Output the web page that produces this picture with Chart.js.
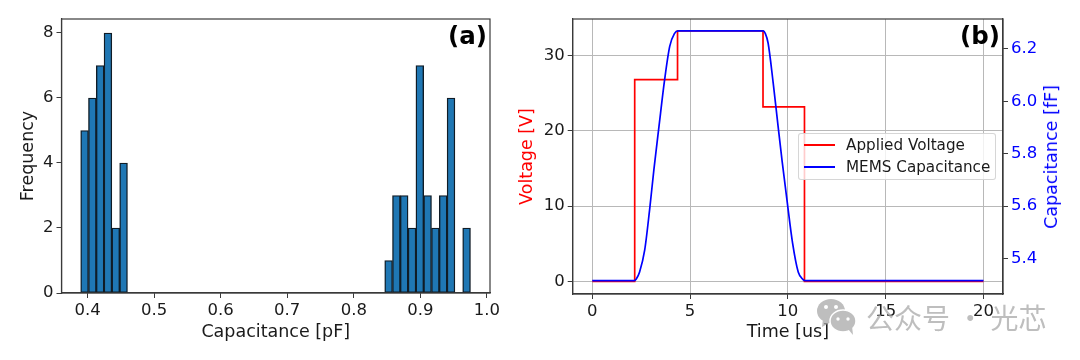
<!DOCTYPE html>
<html>
<head>
<meta charset="utf-8">
<title>Capacitance histogram and MEMS response</title>
<script src="https://cdn.jsdelivr.net/npm/chart.js@4"></script>
<style>
  html, body { margin: 0; padding: 0; background: #fff; }
  body { position: relative; width: 1080px; height: 360px; overflow: hidden; font-family: "DejaVu Sans", sans-serif; color: #1a1a1a; }
  canvas { position: absolute; top: 0; }
  #histCanvas { left: 0; }
  #memsCanvas { left: 505px; }
  .panel-tag { position: absolute; top: 21px; font-size: 24.5px; font-weight: bold; color: #000; line-height: 30px; }
  #capTitle { position: absolute; left: 1051px; top: 157px; color: #0000ff; font-size: 17.5px; white-space: nowrap; transform: translate(-50%, -50%) rotate(-90deg); }
  #legend { position: absolute; left: 798px; top: 133px; width: 196px; height: 45px; border: 1px solid rgba(204,204,204,0.8); border-radius: 3px; background: rgba(255,255,255,0.8); font-size: 15.2px; }
  #legend div { position: absolute; left: 47px; white-space: nowrap; line-height: 20px; }
  #legend span { position: absolute; left: 5px; width: 31px; height: 2px; }
  #watermark { position: absolute; left: 816px; top: 298px; width: 240px; height: 40px; opacity: 0.75; pointer-events: none; }
  #watermark b { position: absolute; left: 50px; top: 2px; font: 28px/34px "Noto Sans CJK SC", sans-serif; color: #a8a8a8; white-space: nowrap; }
</style>
</head>
<body>
<canvas id="histCanvas" width="505" height="360"></canvas>
<canvas id="memsCanvas" width="575" height="360"></canvas>
<div class="panel-tag" style="left:448px">(a)</div>
<div class="panel-tag" style="left:960px">(b)</div>
<div id="capTitle">Capacitance [fF]</div>
<div id="legend"></div>
<div id="watermark">
  <svg width="46" height="40" style="position:absolute;left:0;top:0">
    <ellipse cx="15" cy="13" rx="14" ry="12" fill="#a8a8a8"/>
    <path d="M7 21 L6 29 L15 24 Z" fill="#a8a8a8"/>
    <ellipse cx="27" cy="23" rx="13" ry="11" fill="#a8a8a8" stroke="#fff" stroke-width="1.5"/>
    <path d="M32 31 L37 37 L36 28 Z" fill="#a8a8a8"/>
    <circle cx="10" cy="9" r="2" fill="#fff"/><circle cx="20" cy="9" r="2" fill="#fff"/>
    <circle cx="22" cy="21" r="1.7" fill="#fff"/><circle cx="32" cy="21" r="1.7" fill="#fff"/>
  </svg>
  <b>公众号 · 光芯</b>
</div>
<script>
// panel (a): histogram bins that hold at least one sample
const binCenters = [0.3954, 0.4071, 0.4188, 0.4305, 0.4423, 0.4540,
  0.8524, 0.8641, 0.8758, 0.8876, 0.8993, 0.9110, 0.9227, 0.9344, 0.9462, 0.9696]
const binCounts = [5, 6, 7, 8, 2, 4, 1, 3, 3, 2, 7, 3, 2, 3, 6, 2]
const histXTicks = [0.4, 0.5, 0.6, 0.7, 0.8, 0.9, 1.0]
const histYTicks = [0, 2, 4, 6, 8]

// panel (b): applied voltage steps
const voltageTime = [0, 2.17, 2.17, 4.36, 4.36, 8.73, 8.73, 10.85, 10.85, 20]
const voltageValues = [0, 0, 26.8, 26.8, 33.3, 33.3, 23.2, 23.2, 0, 0]

// panel (b): capacitance
const capTime = [0, 2.15, 2.25, 2.42, 2.68, 2.93, 3.15, 3.41, 3.70, 3.96, 4.20, 4.40,
  8.73, 8.85, 8.99, 9.25, 9.50, 9.71, 9.96, 10.24, 10.53, 10.78, 10.88, 20]
const capValues = [5.316, 5.316, 5.322, 5.349, 5.432, 5.585, 5.738, 5.903, 6.082, 6.209, 6.258, 6.268,
  6.268, 6.258, 6.222, 6.07, 5.905, 5.77, 5.62, 5.46, 5.349, 5.320, 5.316, 5.316]

const timeTicks = [0, 5, 10, 15, 20]
const voltageTicks = [0, 10, 20, 30]
const capTicks = [5.4, 5.6, 5.8, 6.0, 6.2]

const SPINE = "#3a3a3a"
const TEXT = "#1a1a1a"
const GRID = "#b8b8b8"
const TICK_FONT = { family: "DejaVu Sans", size: 16.5 }
const TITLE_FONT = { family: "DejaVu Sans", size: 17.5 }

// the library has no top and right spine, so stroke the whole frame
const framePlugin = {
  id: "frame",
  afterDatasetsDraw(chart) {
    const { ctx, chartArea: a } = chart
    ctx.save()
    ctx.strokeStyle = SPINE
    ctx.lineWidth = 1.2
    ctx.strokeRect(a.left, a.top, a.right - a.left, a.bottom - a.top)
    ctx.restore()
  },
}

function fixedTicks(values) {
  return (scale) => {
    scale.ticks = values.map((v) => ({ value: v }))
  }
}

function axisBase(values, digits, size) {
  return {
    type: "linear",
    afterBuildTicks: fixedTicks(values),
    afterFit: (scale) => {
      if (scale.isHorizontal()) scale.height = size
      else scale.width = size
    },
    border: { color: SPINE, width: 1.2 },
    ticks: {
      color: TEXT,
      font: TICK_FONT,
      autoSkip: false,
      maxRotation: 0,
      padding: 3,
      callback: (v) => Number(v).toFixed(digits),
    },
  }
}

new Chart(document.getElementById("histCanvas"), {
  type: "bar",
  data: {
    datasets: [
      {
        label: "Frequency",
        data: binCenters.map((c, i) => ({ x: c, y: binCounts[i] })),
        backgroundColor: "#1f77b4",
        borderColor: "#101c26",
        borderWidth: 1.4,
        borderSkipped: false,
        barPercentage: 1,
        categoryPercentage: 1,
      },
    ],
  },
  options: {
    responsive: false,
    animation: false,
    layout: { padding: { top: 19, right: 15 } },
    plugins: { legend: { display: false }, tooltip: { enabled: false } },
    scales: {
      x: {
        ...axisBase(histXTicks, 1, 67),
        offset: false,
        min: 0.3607,
        max: 1.0048,
        grid: { offset: false, drawOnChartArea: false, color: SPINE, tickLength: 5 },
        title: { display: true, text: "Capacitance [pF]", color: TEXT, font: TITLE_FONT, padding: { top: 2, bottom: 17 } },
      },
      y: {
        ...axisBase(histYTicks, 0, 61.5),
        min: 0,
        max: 8.43,
        grid: { drawOnChartArea: false, color: SPINE, tickLength: 5 },
        title: { display: true, text: "Frequency", color: TEXT, font: TITLE_FONT, padding: { top: 18, bottom: 0 } },
      },
    },
  },
  plugins: [framePlugin],
})

const voltageSeries = {
  label: "Applied Voltage",
  data: voltageTime.map((t, i) => ({ x: t, y: voltageValues[i] })),
  borderColor: "#ff0000",
  borderWidth: 1.7,
  yAxisID: "y",
  order: 2,
  pointRadius: 0,
  tension: 0,
}
const capSeries = {
  label: "MEMS Capacitance",
  data: capTime.map((t, i) => ({ x: t, y: capValues[i] })),
  borderColor: "#0000ff",
  borderWidth: 1.7,
  yAxisID: "y2",
  order: 1,
  pointRadius: 0,
  cubicInterpolationMode: "monotone",
}

new Chart(document.getElementById("memsCanvas"), {
  type: "line",
  data: { datasets: [voltageSeries, capSeries] },
  options: {
    responsive: false,
    animation: false,
    plugins: { legend: { display: false }, tooltip: { enabled: false } },
    layout: { padding: { top: 19 } },
    scales: {
      x: {
        ...axisBase(timeTicks, 0, 66),
        min: -1,
        max: 21,
        grid: { color: GRID, tickColor: SPINE, tickLength: 5 },
        title: { display: true, text: "Time [us]", color: TEXT, font: TITLE_FONT, padding: { top: 2, bottom: 17 } },
      },
      y: {
        ...axisBase(voltageTicks, 0, 67.7),
        min: -1.69,
        max: 34.87,
        grid: { color: GRID, tickColor: SPINE, tickLength: 5 },
        title: { display: true, text: "Voltage [V]", color: "#ff0000", font: TITLE_FONT, padding: { top: 12, bottom: 0 } },
      },
      y2: {
        ...axisBase(capTicks, 1, 77),
        position: "right",
        min: 5.265,
        max: 6.3135,
        grid: { drawOnChartArea: false, color: SPINE, tickLength: 5 },
        ticks: { ...axisBase(capTicks, 1, 77).ticks, color: "#0000ff" },
      },
    },
  },
  plugins: [framePlugin],
})

// legend box sits inside the axes, keeps the dataset order
const legendBox = document.getElementById("legend")
;[voltageSeries, capSeries].forEach((ds, i) => {
  const top = 10 + i * 22
  legendBox.insertAdjacentHTML(
    "beforeend",
    `<span style="top:${top}px;background:${ds.borderColor}"></span><div style="top:${top - 9}px">${ds.label}</div>`,
  )
})
</script>
</body>
</html>
